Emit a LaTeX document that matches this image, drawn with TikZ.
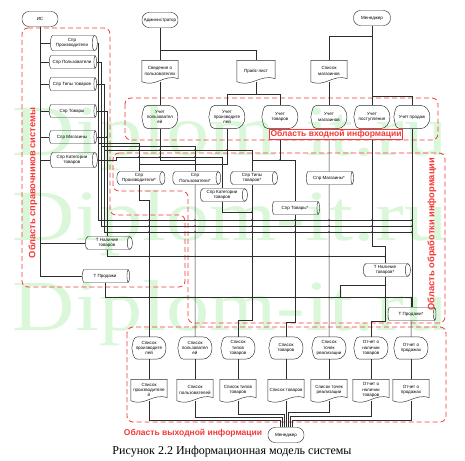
\documentclass[tikz,border=0pt]{standalone}
\usepackage{fontspec}
\setmainfont{Liberation Sans}
\newfontfamily\capfont{Liberation Serif}
\usetikzlibrary{shapes.geometric,calc}
\definecolor{wmc}{RGB}{218,247,218}
\definecolor{rd}{RGB}{245,55,55}
\definecolor{ln}{RGB}{45,45,45}
\newcommand{\dispshape}[1]{%
  \draw[ln,line width=0.45pt]
    ($(#1.north west)!0.28!(#1.north east)$) -- ($(#1.north west)!0.72!(#1.north east)$)
    .. controls ($(#1.north east)+(3pt,0)$) and ($(#1.south east)+(3pt,0)$) .. ($(#1.south west)!0.72!(#1.south east)$)
    -- ($(#1.south west)!0.28!(#1.south east)$)
    .. controls ($(#1.south west)!0.06!(#1.south east)$) .. (#1.west)
    .. controls ($(#1.north west)!0.06!(#1.north east)$) .. cycle;}
\newcommand{\docshape}[1]{%
  \draw[ln,line width=0.45pt]
    (#1.south west) -- (#1.north west) -- (#1.north east) -- ([yshift=3pt]#1.south east)
    .. controls ($(#1.south east)!0.4!(#1.south west)+(0,8pt)$) and ($(#1.south east)!0.6!(#1.south west)+(0,-6pt)$) .. (#1.south west);}
\begin{document}
\begin{tikzpicture}[x=1pt,y=-1pt,
  every node/.style={font=\fontsize{4.5}{5.2}\selectfont, align=center, inner sep=0.5pt},
  term/.style={draw=ln, line width=0.45pt, rounded corners=7pt, minimum width=36pt, minimum height=15pt},
  cyl/.style={draw=ln, line width=0.45pt, cylinder, shape aspect=0.5, minimum height=47pt, minimum width=13pt},
  disp/.style={minimum width=36pt, minimum height=23pt},
  odisp/.style={minimum width=34pt, minimum height=22pt},
  docbox/.style={minimum width=36pt, minimum height=21pt},
  wire/.style={draw=ln, line width=0.5pt},
  region/.style={draw=rd, dash pattern=on 5pt off 3pt, line width=0.8pt, rounded corners=6pt},
  rlab/.style={text=rd, font=\fontsize{8.5}{9}\selectfont\bfseries},
  vlab/.style={text=rd, font=\fontsize{9.3}{10}\selectfont\bfseries, rotate=90},
  wmark/.style={text=wmc, font=\capfont\fontsize{72}{72}\selectfont, xscale=1.2, anchor=base, inner sep=0pt},
  jd/.style={fill=ln}
]
\useasboundingbox (0,0) rectangle (465,460);
% watermark
\node[wmark] (wm1) at (230,155) {Diplom-it.ru};
\node[wmark] (wm2) at (230,240) {Diplom-it.ru};
\node[wmark] (wm3) at (230,330) {Diplom-it.ru};

% regions
\draw[region] (22,28) -- (110,28) -- (110,215) -- (185,215) -- (185,287) -- (22,287) -- cycle;
\draw[region] (113,153) -- (445,153) -- (445,323) -- (188,323) -- (188,191) -- (113,191) -- cycle;
\draw[region] (125,98) rectangle (438,140);
\draw[region] (127,327) rectangle (446,422);

% top terminators
\node[term] (is) at (40,19) {ИС};
\node[term] (adm) at (160,20) {Администратор};
\node[term, minimum width=37pt] (man) at (372,18) {Менеджер};

% left reference cylinders
\node[cyl, minimum width=15pt] (sp1) at (72,43) {Спр\\Производители};
\node[cyl] (sp2) at (72,62) {Спр Пользователи};
\node[cyl] (sp3) at (72,84) {Спр Типы товаров};
\node[cyl] (sp4) at (72,111) {Спр Товары};
\node[cyl] (sp5) at (72,137) {Спр Магазины};
\node[cyl, minimum width=15pt] (sp6) at (72,160) {Спр Категории\\товаров};

% documents (input)
\node[docbox] (svd) at (160,71) {Сведения о\\пользователях};
\node[docbox, minimum width=38pt] (price) at (256,71) {Прайс-лист};
\node[docbox] (shops) at (329,71) {Список\\магазинов};

% input displays
\node[disp] (u1) at (160,117) {Учет\\пользовател\\ей};
\node[disp] (u2) at (227,117) {Учет\\производите\\лей};
\node[disp] (u3) at (280,117) {Учет\\товаров};
\node[disp] (u4) at (329,117) {Учет\\магазинов};
\node[disp] (u5) at (372,117) {Учет\\поступления};
\node[disp] (u6) at (412,117) {Учет продаж};

% processing cylinders
\node[cyl, minimum height=48pt] (pp) at (139,178) {Спр\\Производители*};
\node[cyl, minimum height=48pt] (pu) at (195,178) {Спр\\Пользователи*};
\node[cyl] (pt) at (252,178) {Спр Типы\\товаров*};
\node[cyl] (pk) at (222,195) {Спр Категории\\товаров};
\node[cyl] (ptv) at (295,208) {Спр Товары*};
\node[cyl] (pm) at (329,178) {Спр Магазины*};
\node[cyl] (tn) at (107,243) {Т Наличие\\товаров};
\node[cyl] (tp) at (105,276) {Т Продажи};
\node[cyl] (tn2) at (385,270) {Т Наличие\\товаров*};
\node[cyl, minimum height=48pt] (tp2) at (411,314) {Т Продажи*};

% output displays
\node[odisp] (o1) at (149,348) {Список\\производите\\лей};
\node[odisp] (o2) at (195,348) {Список\\пользовател\\ей};
\node[odisp] (o3) at (238,348) {Список\\типов\\товаров};
\node[odisp] (o4) at (286,348) {Список\\товаров};
\node[odisp] (o5) at (329,348) {Список\\точек\\реализации};
\node[odisp] (o6) at (371,348) {Отчет о\\наличии\\товаров};
\node[odisp] (o7) at (411,348) {Отчет о\\продажах};

% output documents
\node[docbox] (d1) at (149,390) {Список\\производителе\\й};
\node[docbox] (d2) at (195,390) {Список\\пользователей};
\node[docbox] (d3) at (238,390) {Список типов\\товаров};
\node[docbox] (d4) at (286,390) {Список товаров};
\node[docbox] (d5) at (329,390) {Список точек\\реализации};
\node[docbox] (d6) at (371,390) {Отчет о\\наличии\\товаров};
\node[docbox] (d7) at (411,390) {Отчет о\\продажах};

\node[term] (man2) at (286,435) {Менеджер};

% shapes outlines
\foreach \n in {u1,u2,u3,u4,u5,u6,o1,o2,o3,o4,o5,o6,o7} {\dispshape{\n}}
\foreach \n in {svd,price,shops,d1,d2,d3,d4,d5,d6,d7} {\docshape{\n}}

% coordinates
\coordinate (aj) at (160,50);
\coordinate (mj) at (372,36);
\coordinate (mj2) at (372,96);
\coordinate (c1) at (98,143);
\coordinate (c2) at (101,146.5);
\coordinate (c3) at (104,150);
\coordinate (c6) at (116,157);
\coordinate (m1) at (412,220);
\coordinate (m2) at (412,226);
\coordinate (m3) at (412,232);
\coordinate (lp) at (340,297.5);

% IS connections
\foreach \n in {sp1,sp2,sp3,sp4,sp5,sp6,tn,tp} {\draw[wire] (is.south) |- (\n.west);}

% administrator / manager
\draw[wire] (adm) -- (svd);
\draw[wire] (aj) -| (price.north);
\draw[wire] (svd.south) -- (u1.north);
\draw[wire] (price.south) -- ++(0,13) coordinate (pj) -| (u2.north);
\draw[wire] (pj) -| (u3.north);
\draw[wire] (man) -- (u5);
\draw[wire] (mj) -| (shops.north);
\draw[wire] (mj2) -| (u6.north);
\draw[wire] (shops.south) -- (u4.north);

% reference -> processing
\draw[wire] (sp1.east) -| (c1) -| (pp.north);
\draw[wire] (c1) |- (m1);
\draw[wire] (sp2.east) -| (c2) -| (pu.north);
\draw[wire] (c2) |- (m2);
\draw[wire] (sp3.east) -| (c3) -| (pt.north);
\draw[wire] (c3) |- (m3);
\draw[wire] (sp4.east) -| (tn.north);
\draw[wire] (sp5.east) -- (sp5.east -| tn.north);
\draw[wire] (sp6.east) -| (c6) -| (pk.north);

% input -> processing
\draw[wire] (u1.south) -- ++(0,31.5) -| (pu.north);
\draw[wire] (u2.south) -- ++(0,35.5) -| (pp.north);
\draw[wire] (u3.south) -- ++(0,31.5) coordinate (u3j) -| (ptv.north);
\draw[wire] (u3j) -| (pt.north);
\draw[wire] (u4) -- (pm);
\draw[wire] (u5.south) -- ++(0,118) -| (tn2.north);
\draw[wire] (u6.south) -- (u6.south |- tp2.north);
\draw[wire] (pk.south) -- ++(0,10.5) -| (pt.south);

% processing -> outputs
\draw[wire] (pp.south) -- ++(0,16) -| (o1.north);
\draw[wire] (pu) -- (o2);
\draw[wire] (pt.south) -- ++(0,136) -| (o3.north);
\draw[wire] (ptv.south) -- ++(0,108) -| (o4.north);
\draw[wire] (pm) -- (o5);
\draw[wire] (tn2.south) -- ++(0,45) -| (o6.north);
\draw[wire] (tp2) -- (o7);
\draw[wire] (tn.south) -- ++(0,7) -| (tn2.north);
\draw[wire] (tp.south) -- ++(0,15) -| (tp2.north);
\draw[wire] (tn2.south) -- ++(0,8.5) -| (lp);

% outputs -> documents -> manager
\foreach \i in {1,...,7} {\draw[wire] (o\i) -- (d\i);}
\draw[wire] (d1.south) -- ++(0,20) -| ([xshift=-6pt]man2.north);
\draw[wire] (d2.south) -- ++(0,17) -| ([xshift=-4pt]man2.north);
\draw[wire] (d3.south) -- ++(0,14) -| ([xshift=-2pt]man2.north);
\draw[wire] (d4) -- (man2);
\draw[wire] (d5.south) -- ++(0,12) -| ([xshift=2pt]man2.north);
\draw[wire] (d6.south) -- ++(0,16) -| ([xshift=4pt]man2.north);
\draw[wire] (d7.south) -- ++(0,20) -| ([xshift=6pt]man2.north);

% junction dots
\foreach \yy in {220,226,232} {\foreach \xx in {149,195,252,295,329,372,412} {\fill[jd] (\xx,\yy) circle (0.9pt);}}
\foreach \xx in {149,195,252,295,329,385} {\fill[jd] (\xx,256.5) circle (0.9pt);}
\foreach \xx in {149,195,252,295,329,340,385,411} {\fill[jd] (\xx,297.5) circle (0.9pt);}
\foreach \p in {(139,146.5),(160,146.5),(139,150),(160,150),(195,150),(227,150),(139,157),(160,157),(195,157),(107,137),(252,212),(280,160)} {\fill[jd] \p circle (0.9pt);}

% region labels
\node[vlab] (lab1) at (33,183) {Область справочников системы};
\node[vlab] (lab2) at (432,234) {Область обработки информации};
\node[rlab, fill=white, draw=rd, line width=0.4pt, inner sep=1pt] (lab3) at (336,134) {Область входной информации};
\node[rlab] (lab4) at (193,433) {Область выходной информации};

% caption
\node[font=\capfont\fontsize{12}{13}\selectfont] (cap) at (232,452) {Рисунок 2.2 Информационная модель системы};
\end{tikzpicture}
\end{document}
